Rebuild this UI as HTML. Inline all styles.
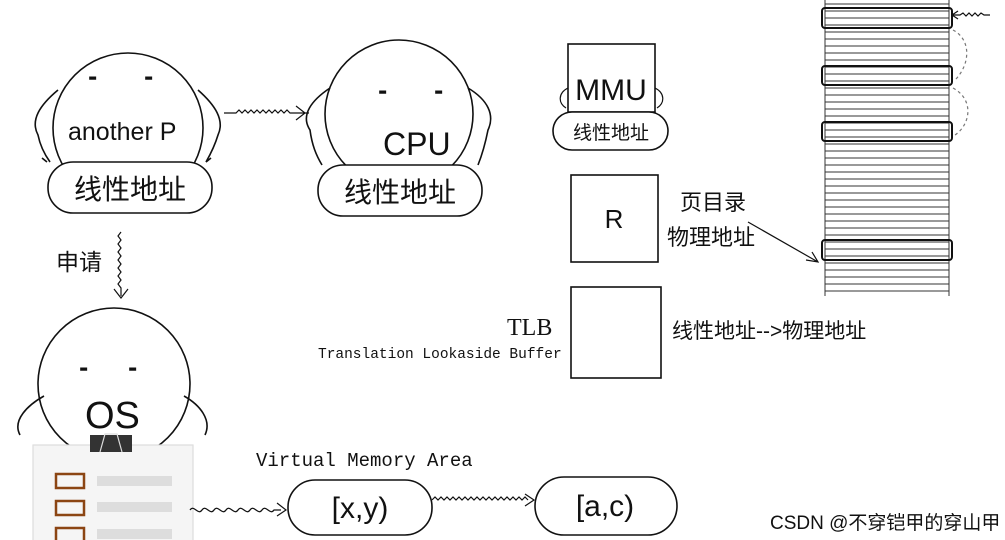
<!DOCTYPE html>
<html><head><meta charset="utf-8"><style>
html,body{margin:0;padding:0;background:#fff;width:1005px;height:540px;overflow:hidden}
svg text{font-family:"Liberation Sans","Noto Sans CJK SC",sans-serif;fill:#111}
.m{font-family:"Liberation Mono","Noto Sans CJK SC",monospace}
</style></head><body>
<svg width="1005" height="540" viewBox="0 0 1005 540" xmlns="http://www.w3.org/2000/svg" fill="none" stroke="#111" stroke-width="1.6">
<g stroke-width="1" stroke="#333">
<line x1="825" y1="0" x2="825" y2="296"/><line x1="949" y1="0" x2="949" y2="296"/>
<path d="M825 4H949M825 11H949M825 18H949M825 25H949M825 32H949M825 39H949M825 46H949M825 53H949M825 60H949M825 67H949M825 74H949M825 81H949M825 88H949M825 95H949M825 102H949M825 109H949M825 116H949M825 123H949M825 130H949M825 137H949M825 144H949M825 151H949M825 158H949M825 165H949M825 172H949M825 179H949M825 186H949M825 193H949M825 200H949M825 207H949M825 214H949M825 221H949M825 228H949M825 235H949M825 242H949M825 249H949M825 256H949M825 263H949M825 270H949M825 277H949M825 284H949M825 291H949"/>
</g>
<g stroke-width="2">
<rect x="822" y="8" width="130" height="20" rx="3"/>
<rect x="822" y="66" width="130" height="19" rx="3"/>
<rect x="822" y="122" width="130" height="19" rx="3"/>
<rect x="822" y="240" width="130" height="20" rx="3"/>
</g>
<path d="M952 15 l6 -4 M952 15 l6 4 M952 15 h8 l3 -2 3 3 3 -3 3 3 3 -3 3 3 3 -3 3 2 h6" stroke-width="1.2"/>
<path d="M953 30 C972 40 970 65 955 80 M953 88 C975 100 970 125 955 135" stroke="#777" stroke-dasharray="3 3" stroke-width="1.2"/>
<circle cx="128" cy="128" r="75" fill="#fff"/>
<path d="M58 90 C40 105 30 120 38 135 C40 145 45 155 50 162 M198 90 C215 105 225 120 218 135 C215 145 210 155 206 162"/>
<path d="M42 158l5 4M211 158l-5 4" />
<rect x="48" y="162" width="164" height="51" rx="25" fill="#fff"/>
<text x="89" y="84" font-size="22">-</text><text x="145" y="84" font-size="22">-</text>
<text x="68" y="140" font-size="25" stroke="none">another P</text>
<text x="130" y="199" font-size="28" text-anchor="middle" stroke="none">线性地址</text>
<path d="M224 113 h12 l3-3 3 3 3-3 3 3 3-3 3 3 3-3 3 3 3-3 3 3 3-3 3 3 3-3 3 3 3-3 3 3 3-3 3 3 h19 M296 106 l9 7 -9 7" stroke-width="1.2"/>
<circle cx="399" cy="114" r="74" fill="#fff"/>
<path d="M330 88 C312 100 300 115 310 130 C312 145 316 155 322 165 M468 88 C488 100 495 115 488 130 C485 145 482 155 478 165"/>
<rect x="318" y="165" width="164" height="51" rx="25" fill="#fff"/>
<text x="379" y="98" font-size="22">-</text><text x="435" y="98" font-size="22">-</text>
<text x="383" y="155" font-size="32" stroke="none">CPU</text>
<text x="400" y="202" font-size="28" text-anchor="middle" stroke="none">线性地址</text>
<text x="56" y="270" font-size="23" stroke="none">申请</text>
<path d="M121 232 l-3 4 3 4 -3 4 3 4 -3 4 3 4 -3 4 3 4 -3 4 3 4 -3 4 3 4 -3 4 3 4 v8 M114 289 l7 9 7-9" stroke-width="1.2"/>
<circle cx="114" cy="384" r="76" fill="#fff"/>
<path d="M44 396 C28 405 12 420 20 435 M184 396 C200 405 212 420 205 435"/>
<rect x="33" y="445" width="160" height="100" fill="#f5f5f5" stroke="#ddd" stroke-width="1.2"/>
<text x="80" y="375" font-size="22">-</text><text x="129" y="375" font-size="22">-</text>
<text x="85" y="428" font-size="38" stroke="none">OS</text>
<rect x="90" y="435" width="42" height="17" fill="#333" stroke="none"/>
<path d="M100 452 l5-18 h12 l5 18" stroke="#ddd" stroke-width="1.2"/>
<g stroke="#8b4513" stroke-width="2.5">
<rect x="56" y="474" width="28" height="14"/><rect x="56" y="501" width="28" height="14"/><rect x="56" y="528" width="28" height="14"/>
</g>
<g fill="#ddd" stroke="none"><rect x="97" y="476" width="75" height="10"/><rect x="97" y="502" width="75" height="10"/><rect x="97" y="529" width="75" height="10"/></g>
<path d="M190 510 c4-6 8 6 12 0 s8 6 12 0 s8 6 12 0 s8 6 12 0 s8 6 12 0 s8 6 12 0 s8 6 12 0 h7 M277 503 l9 7 -9 6" stroke-width="1.2"/>
<text class="m" x="256" y="466" font-size="19" stroke="none" fill="#333">Virtual Memory Area</text>
<rect x="288" y="480" width="144" height="55" rx="27" fill="#fff"/>
<text x="360" y="518" font-size="30" text-anchor="middle" stroke="none">[x,y)</text>
<path d="M432 500 l3-3 3 3 3-3 3 3 3-3 3 3 3-3 3 3 3-3 3 3 3-3 3 3 3-3 3 3 3-3 3 3 3-3 3 3 3-3 3 3 3-3 3 3 3-3 3 3 3-3 3 3 3-3 3 3 3-3 3 3 3-3 3 3 M525 494 l9 6 -9 6" stroke-width="1.2"/>
<rect x="535" y="477" width="142" height="58" rx="29" fill="#fff"/>
<text x="605" y="516" font-size="30" text-anchor="middle" stroke="none">[a,c)</text>
<rect x="568" y="44" width="87" height="68" fill="#fff"/>
<path d="M568 88 c-10 5 -10 15 -2 20 M655 88 c10 5 10 15 2 20" stroke-width="1.2"/>
<rect x="553" y="112" width="115" height="38" rx="19" fill="#fff"/>
<text x="611" y="100" font-size="30" text-anchor="middle" stroke="none">MMU</text>
<text x="611" y="139" font-size="19" text-anchor="middle" stroke="none">线性地址</text>
<rect x="571" y="175" width="87" height="87"/>
<text x="614" y="228" font-size="26" text-anchor="middle" stroke="none">R</text>
<text x="680" y="210" font-size="22" stroke="none">页目录</text>
<text x="667" y="245" font-size="22" stroke="none">物理地址</text>
<path d="M748 222 L818 262 M806 260 l12 2 -6 -10" stroke-width="1.2"/>
<rect x="571" y="287" width="90" height="91"/>
<text x="507" y="335" font-size="24" stroke="none" style="font-family:'Liberation Serif',serif">TLB</text>
<text class="m" x="318" y="358" font-size="14.5" stroke="none" fill="#555">Translation Lookaside Buffer</text>
<text x="672" y="338" font-size="21" stroke="none">线性地址--&gt;物理地址</text>
<text x="770" y="529" font-size="19" stroke="none" fill="#bbb">CSDN @不穿铠甲的穿山甲</text>
</svg>
</body></html>
